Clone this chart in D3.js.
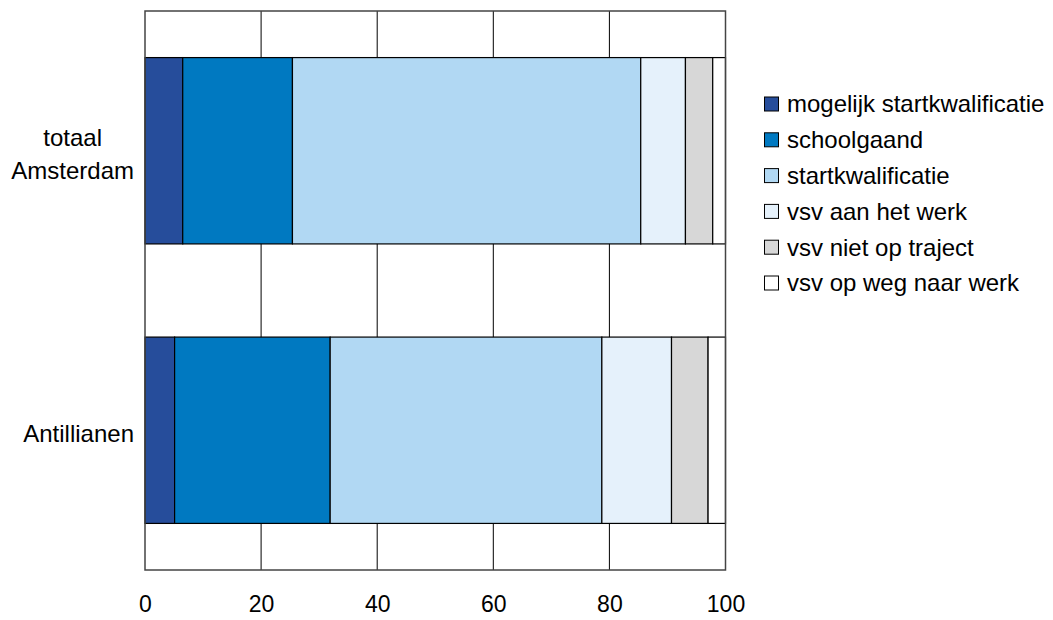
<!DOCTYPE html>
<html><head><meta charset="utf-8">
<script src="https://cdn.jsdelivr.net/npm/d3@7"></script>
<style>body{margin:0;background:#fff}svg{display:block;font-family:"Liberation Sans",Arial,sans-serif}</style>
</head><body><svg id="c" width="1053" height="620"></svg>
<script>
const categories = ["totaal Amsterdam", "Antillianen"];
const seriesNames = ["mogelijk startkwalificatie","schoolgaand","startkwalificatie","vsv aan het werk","vsv niet op traject","vsv op weg naar werk"];
const seriesColors = ["#264d9b","#0079c1","#b1d8f3","#e5f1fb","#d7d7d7","#ffffff"];
const mogelijk = [6.5, 5.1];
const schoolgaand = [18.9, 26.8];
const startkwal = [60.0, 46.8];
const vsvWerk = [7.7, 12.0];
const vsvNiet = [4.7, 6.3];
const vsvWeg = [2.2, 3.0];
const xTicks = [0, 20, 40, 60, 80, 100];

const seriesValues = [mogelijk, schoolgaand, startkwal, vsvWerk, vsvNiet, vsvWeg];
const rows = categories.map((c, i) => {
  const r = {cat: c};
  seriesNames.forEach((s, j) => r[s] = seriesValues[j][i]);
  return r;
});
const stack = d3.stack().keys(seriesNames)(rows);

const svg = d3.select("#c");
const L = 145, R = 725.5, T = 11, B = 570;
const FS = 24;
const x = d3.scaleLinear().domain([0, 100]).range([L, R]);
const y = d3.scaleBand().domain(categories).range([T, B]).paddingInner(1/3).paddingOuter(1/6);

// gridlines
svg.append("g").selectAll("line").data(xTicks.slice(1, -1)).join("line")
  .attr("x1", d => x(d)).attr("x2", d => x(d)).attr("y1", T).attr("y2", B)
  .attr("stroke", "#000").attr("stroke-width", 1);

// bars
svg.append("g").selectAll("g").data(stack).join("g")
  .attr("fill", (d, i) => seriesColors[i])
  .selectAll("rect").data(d => d).join("rect")
  .attr("x", d => x(d[0])).attr("width", d => x(d[1]) - x(d[0]))
  .attr("y", d => y(d.data.cat)).attr("height", y.bandwidth())
  .attr("stroke", "#000").attr("stroke-width", 1.2);

// frame
svg.append("rect").attr("x", L).attr("y", T).attr("width", R - L).attr("height", B - T)
  .attr("fill", "none").attr("stroke", "#444").attr("stroke-width", 1.5);

// x tick labels
const xAxis = svg.append("g").attr("transform", `translate(0,${B})`)
  .call(d3.axisBottom(x).tickValues(xTicks).tickSize(0).tickPadding(26).tickFormat(d3.format("d")));
xAxis.select(".domain").remove();
xAxis.selectAll("text").attr("font-size", 23).attr("fill", "#000").attr("font-family", "Liberation Sans, Arial, sans-serif");

// y labels
const labelLines = {"totaal Amsterdam": ["totaal", "Amsterdam"], "Antillianen": ["Antillianen"]};
const yl = svg.append("g").attr("font-size", FS).attr("fill", "#000");
categories.forEach(c => {
  const lines = labelLines[c];
  const cy = y(c) + y.bandwidth() / 2 + 3;
  const lh = 33;
  const g = yl.append("g");
  const texts = lines.map((t, i) => g.append("text").text(t)
    .attr("y", cy + (i - (lines.length - 1) / 2) * lh).attr("dy", "0.35em").attr("text-anchor", "middle"));
  const w = d3.max(texts, t => t.node().getComputedTextLength());
  texts.forEach(t => t.attr("x", 134 - w / 2));
});

// legend
const lg = svg.append("g").attr("transform", "translate(764,104)");
seriesNames.forEach((s, i) => {
  const row = lg.append("g").attr("transform", `translate(0,${i * 35.8})`);
  row.append("rect").attr("x", 0.5).attr("y", -7).attr("width", 14).attr("height", 14)
    .attr("fill", seriesColors[i]).attr("stroke", "#000").attr("stroke-width", 1);
  row.append("text").attr("x", 23).attr("dy", "0.35em").attr("font-size", FS).text(s);
});
</script></body></html>
